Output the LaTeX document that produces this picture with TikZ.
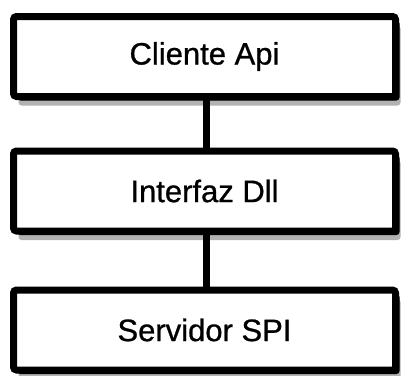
\documentclass[tikz,border=0pt]{standalone}
\usepackage{fontspec}
\setmainfont{Liberation Sans}
\usetikzlibrary{shadows}
\begin{document}
\begin{tikzpicture}[x=1pt,y=-1pt,
  layerbox/.style={draw=black, line width=7pt, fill=white, rectangle,
    rounded corners=3pt, minimum width=382pt, minimum height=80pt, inner sep=0pt,
    general shadow={fill=black!30, shadow xshift=5pt, shadow yshift=-9pt},
    general shadow={fill=black, shadow xshift=4pt, shadow yshift=-4pt},
    font=\fontsize{31}{36}\selectfont\addfontfeatures{FakeBold=0.8}},
  link/.style={draw=black, line width=7pt}]
\useasboundingbox (0,0) rectangle (409,375);
\fill[white] (0,0) rectangle (409,375);
\node[layerbox] (cli) at (204.5,56.5) {Cliente Api};
\node[layerbox] (dll) at (204.5,191) {Interfaz Dll};
\node[layerbox] (spi) at (204.5,330) {Servidor SPI};
\draw[link] ([xshift=2pt]cli.south) -- ([xshift=2pt]dll.north);
\draw[link] ([xshift=2pt]dll.south) -- ([xshift=2pt]spi.north);
\end{tikzpicture}
\end{document}
